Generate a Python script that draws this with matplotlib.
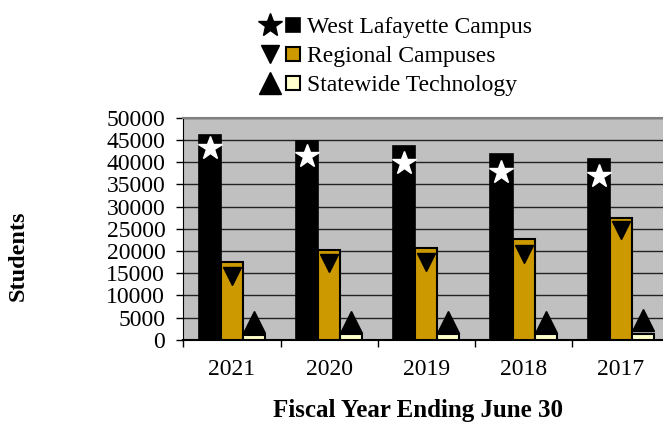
import numpy as np
import matplotlib
matplotlib.use('Agg')
import matplotlib.pyplot as plt
from matplotlib.lines import Line2D
from matplotlib.legend_handler import HandlerTuple

plt.rcParams['font.family'] = ['Liberation Serif', 'DejaVu Serif']

years = ['2021', '2020', '2019', '2018', '2017']
west_lafayette = [46100, 44750, 43600, 41800, 40600]
regional = [17400, 20300, 20700, 22700, 27400]
statewide = [1100, 1200, 1250, 1250, 1300]

# marker series drawn on top of the bars
wl_marks = [43100, 41300, 39700, 37800, 36900]
reg_marks = [14300, 17200, 17500, 19300, 24700]
sw_marks = [4050, 4050, 4050, 4050, 4400]

labels = ['West Lafayette Campus', 'Regional Campuses', 'Statewide Technology']

fig = plt.figure(figsize=(6.63, 4.22), dpi=100)
ax = fig.add_axes([0.2765, 0.195, 0.7331, 0.526])

x = np.arange(len(years))
w = 0.227
ax.bar(x - w, west_lafayette, w, color='black', edgecolor='black', linewidth=1.2, zorder=3)
ax.bar(x, regional, w, color='#CC9900', edgecolor='black', linewidth=1.5, zorder=3)
ax.bar(x + w, statewide, w, color='#FFFFCC', edgecolor='black', linewidth=1.5, zorder=3)

ax.plot(x - w, wl_marks, ls='none', marker='*', ms=17.5, color='white', zorder=4)
ax.plot(x, reg_marks, ls='none', marker='v', ms=13, color='black', zorder=4)
ax.plot(x + w, sw_marks, ls='none', marker='^', ms=16, color='black', zorder=4)

ax.set_xlim(-0.5, 4.5)
ax.set_ylim(0, 50000)
ax.set_facecolor('#C0C0C0')
ax.set_yticks(np.arange(0, 50001, 5000))
ax.yaxis.grid(True, color='#222222', linewidth=1.0, zorder=1)
ax.set_axisbelow(True)

ax.set_xticks(x)
ax.set_xticklabels(years, fontsize=17)
ax.set_xticks(np.arange(-0.5, 5, 1), minor=True)
ax.tick_params(axis='x', which='major', length=0, pad=14)
ax.tick_params(axis='x', which='minor', length=5, width=1, direction='out')
ax.tick_params(axis='y', length=5, width=1, direction='out', pad=8, labelsize=17)

ax.spines['top'].set_color('#808080')
ax.spines['top'].set_linewidth(1.5)
ax.spines['right'].set_visible(False)
ax.spines['left'].set_color('black')
ax.spines['bottom'].set_color('black')
ax.spines['bottom'].set_linewidth(1.5)

fig.text(0.028, 0.393, 'Students', rotation=90, fontsize=17.5, fontweight='bold',
         ha='center', va='center')
fig.text(0.63, 0.028, 'Fiscal Year Ending June 30', fontsize=18, fontweight='bold',
         ha='center', va='center')

handles = [
    (Line2D([], [], ls='none', marker='*', ms=18, color='black'),
     Line2D([], [], ls='none', marker='s', ms=9.5, mfc='black', mec='black', mew=1.2)),
    (Line2D([], [], ls='none', marker='v', ms=13, color='black'),
     Line2D([], [], ls='none', marker='s', ms=9.5, mfc='#CC9900', mec='black', mew=1.5)),
    (Line2D([], [], ls='none', marker='^', ms=16, color='black'),
     Line2D([], [], ls='none', marker='s', ms=9.5, mfc='#FFFFCC', mec='black', mew=1.5)),
]
fig.legend(handles, labels, loc='upper left', bbox_to_anchor=(0.364, 1.005),
           frameon=False, fontsize=17, handler_map={tuple: HandlerTuple(ndivide=None, pad=0.1)},
           handlelength=1.8, handletextpad=0.2, labelspacing=0.32, borderpad=0.3)

fig.savefig('out.png', dpi=100)
